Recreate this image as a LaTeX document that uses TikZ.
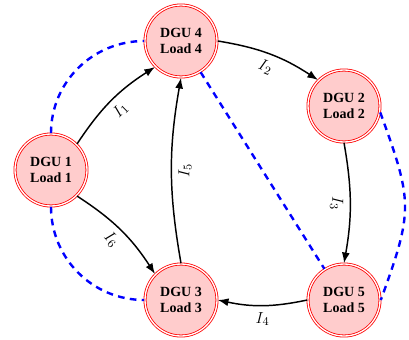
\documentclass[tikz,border=0pt]{standalone}
\usepackage{fontspec}
\setmainfont{Liberation Serif}
\usetikzlibrary{automata,positioning}
\usetikzlibrary{arrows.meta}
\tikzset{
        % DGU nodes
        node_dgu/.style={state, accepting, draw=red, fill=red!20, line width=0.6pt, double distance=1pt, minimum size=54pt, inner sep=0pt, align=center, font=\fontsize{10.5pt}{12pt}\selectfont\bfseries},
        % Current lines
        line_current/.style={line width=1.1pt, ->},
        % Current labels
        label_current/.style={font=\fontsize{13pt}{15pt}\selectfont, inner sep=4.5pt},
        % Communication links
        line_comm/.style={blue, line width=1.8pt, dash pattern=on 5pt off 4pt}
}
\begin{document}
\begin{tikzpicture}[
            x=0.75pt, y=-0.75pt,
            >={Latex[length=8pt,width=6pt]}
        ]
            \useasboundingbox (0,0) rectangle (409,339);
            \node[node_dgu] (dgu1) at (51,170) {DGU 1\\Load 1};
            \node[node_dgu] (dgu4) at (181,41) {DGU 4\\Load 4};
            \node[node_dgu] (dgu2) at (344,106) {DGU 2\\Load 2};
            \node[node_dgu] (dgu3) at (181,300) {DGU 3\\Load 3};
            \node[node_dgu] (dgu5) at (344,300) {DGU 5\\Load 5};

            \draw[line_comm] (dgu1.north) to[out=90, in=180] (dgu4.west);
            \draw[line_comm] (dgu1.south) to[out=-90, in=180] (dgu3.west);
            \draw[line_comm] (dgu4) -- (dgu5);
            \draw[line_comm] (dgu2.-10) to[out=-70, in=70, looseness=1.3] (dgu5.east);

            \draw[line_current] (dgu1.north east) to[bend left=12] node[label_current, sloped, below] {$I_1$} (dgu4.south west);
            \draw[line_current] (dgu4.east) to[bend left=12] node[label_current, sloped, below] {$I_2$} (dgu2.north west);
            \draw[line_current] (dgu2.south) to[bend left=10] node[label_current, sloped, below] {$I_3$} (dgu5.north);
            \draw[line_current] (dgu5.west) to[bend left=12] node[label_current, below] {$I_4$} (dgu3.east);
            \draw[line_current] (dgu3.north) to[bend left=10] node[label_current, sloped, below] {$I_5$} (dgu4.south);
            \draw[line_current] (dgu1.south east) to[bend left=12] node[label_current, sloped, below] {$I_6$} (dgu3.north west);
        \end{tikzpicture}
\end{document}
